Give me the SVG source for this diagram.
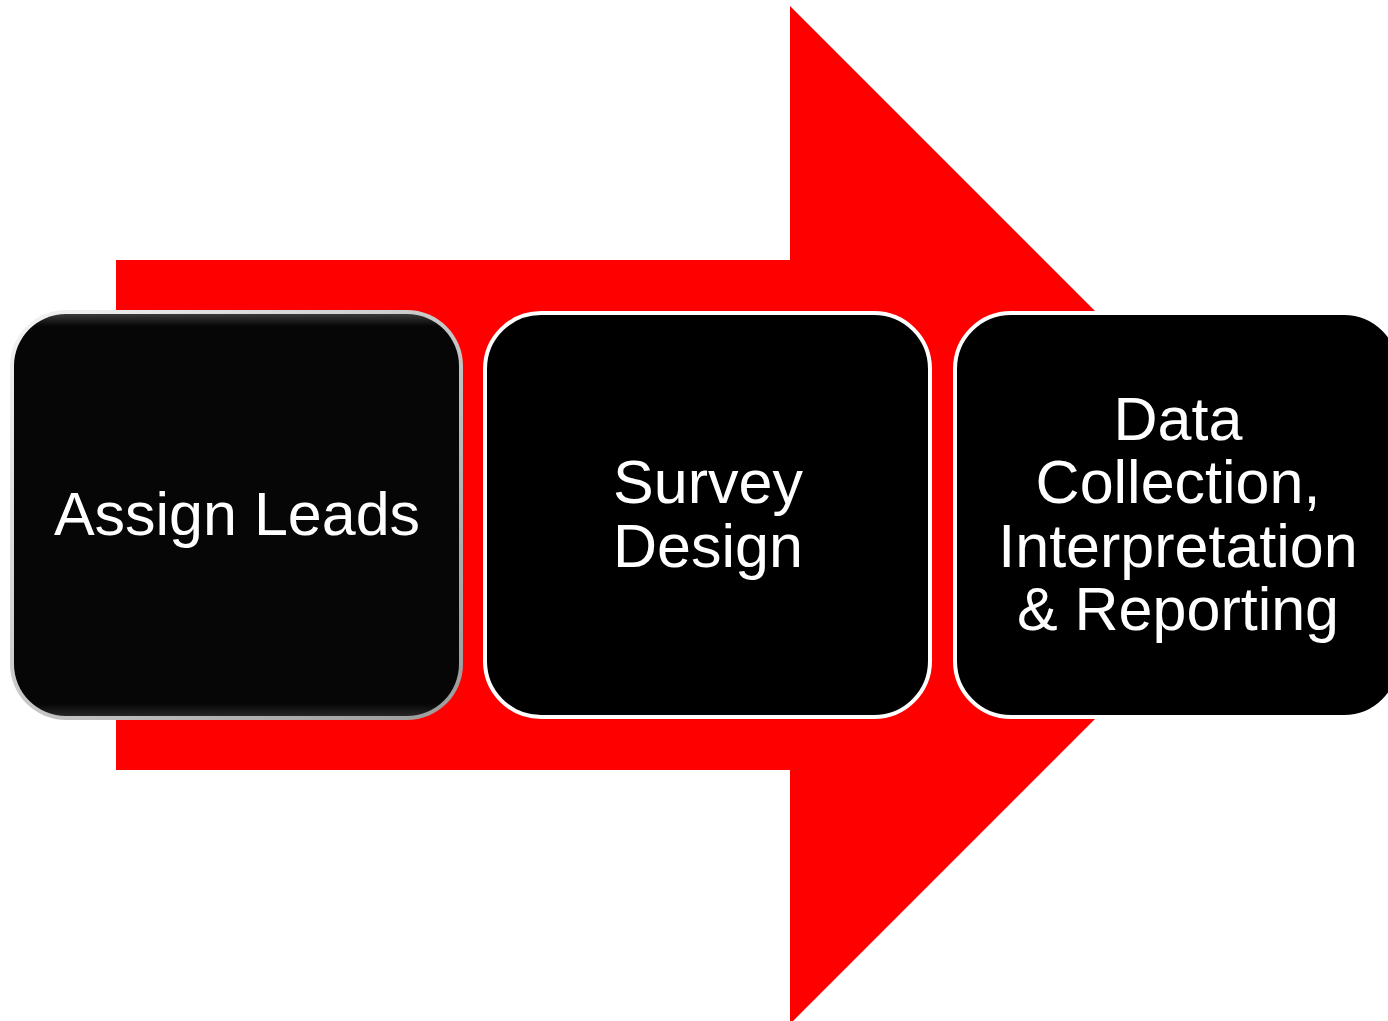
<svg xmlns="http://www.w3.org/2000/svg" width="1388" height="1021" viewBox="0 0 1388 1021">
  <defs>
    <style>
      .label { font-family: "Liberation Sans", Arial, sans-serif; font-size: 61px; fill: #ffffff; text-anchor: middle; }
      .step { fill: #000000; stroke: #ffffff; stroke-width: 4; }
    </style>
    <linearGradient id="bevelTop" x1="0" y1="0" x2="0" y2="1">
      <stop offset="0" stop-color="#3a3a3a"/>
      <stop offset="0.03" stop-color="#060606"/>
      <stop offset="0.97" stop-color="#060606"/>
      <stop offset="1" stop-color="#262626"/>
    </linearGradient>
    <linearGradient id="rimGrey" x1="0" y1="0" x2="1" y2="1">
      <stop offset="0" stop-color="#f4f4f4"/>
      <stop offset="1" stop-color="#9a9a9a"/>
    </linearGradient>
  </defs>

  <rect width="1388" height="1021" fill="#ffffff"/>

  <!-- Large process arrow behind the steps -->
  <g id="connectors">
    <polygon points="116,260 790,260 790,6 1299,515 790,1024 790,770 116,770" fill="#ff0000"/>
  </g>

  <!-- Step 1 -->
  <g id="step-assign-leads">
    <rect x="10" y="310" width="453" height="410" rx="56" fill="url(#rimGrey)"/>
    <rect x="14" y="314" width="445" height="402" rx="52" fill="url(#bevelTop)"/>
    <text class="label" x="237" y="535">Assign Leads</text>
  </g>

  <!-- Step 2 -->
  <g id="step-survey-design">
    <rect class="step" x="485" y="313" width="445" height="404" rx="56"/>
    <text class="label" x="708" y="503">Survey</text>
    <text class="label" x="708" y="567">Design</text>
  </g>

  <!-- Step 3 -->
  <g id="step-data-collection">
    <rect class="step" x="955" y="313" width="445" height="404" rx="56"/>
    <text class="label" x="1178" y="440">Data</text>
    <text class="label" x="1178" y="503">Collection,</text>
    <text class="label" x="1178" y="567">Interpretation</text>
    <text class="label" x="1178" y="630">&amp; Reporting</text>
  </g>
</svg>
